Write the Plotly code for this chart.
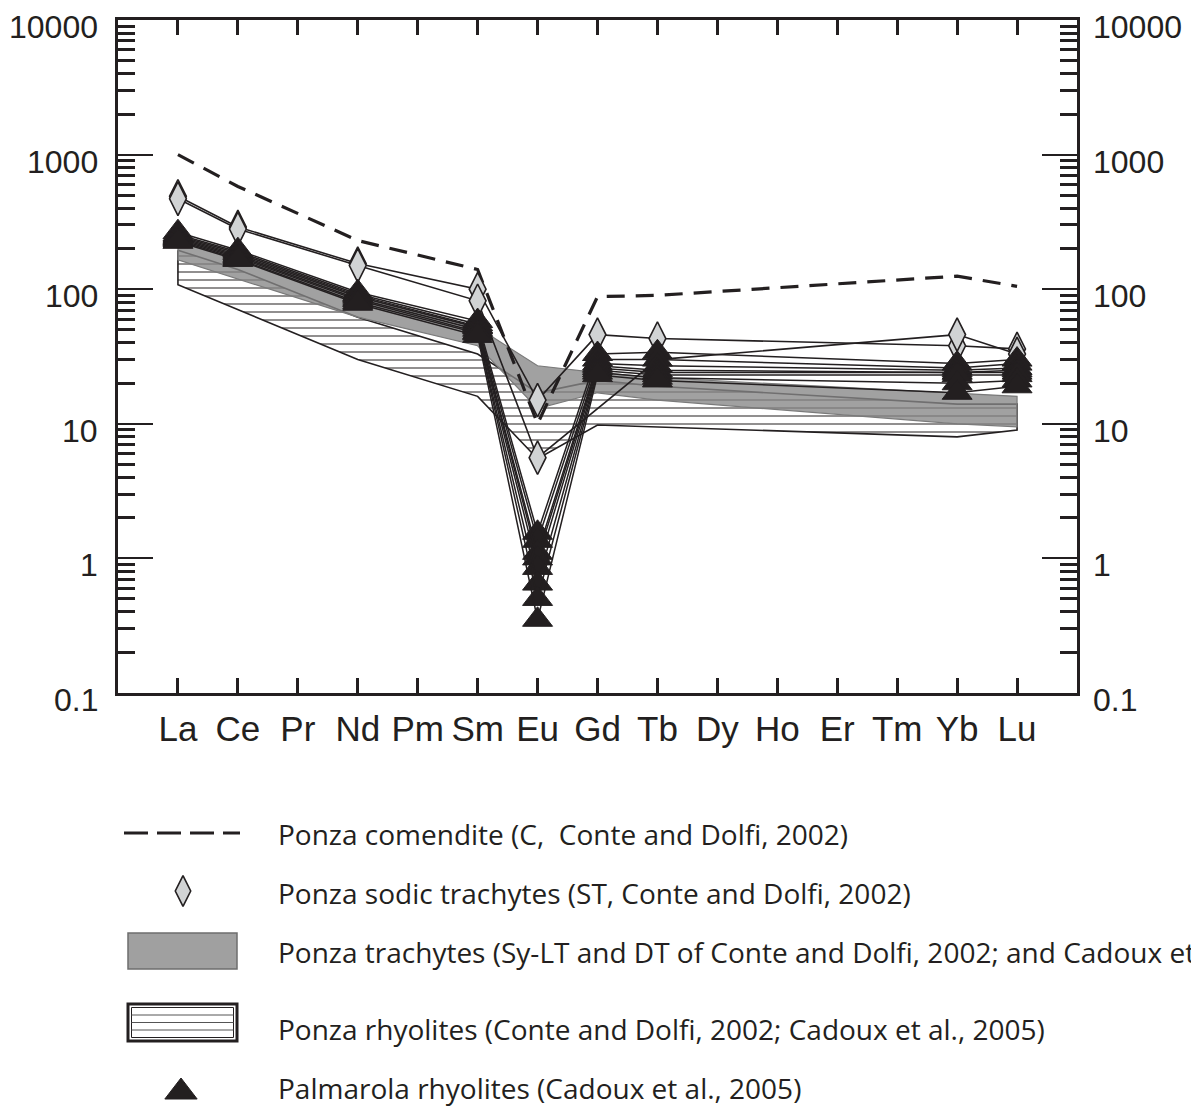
import math
import plotly.graph_objects as go

# ---------------- data ----------------
ELEMENTS = ["La", "Ce", "Pr", "Nd", "Pm", "Sm", "Eu", "Gd", "Tb", "Dy", "Ho", "Er", "Tm", "Yb", "Lu"]
N = None

COMENDITE = [1000, 580, N, 230, N, 140, 10.0, 88, 90, N, N, N, N, 125, 105]

SODIC_TRACHYTE_1 = [490, 290, N, 155, N, 100, 15, 46, 43, N, N, N, N, 38, 36]
SODIC_TRACHYTE_2 = [470, 280, N, 150, N, 82, 5.6, N, 30, N, N, N, N, 46, 33]

PALMAROLA_1 = [265, 195, N, 95, N, 58, 1.55, 33, 34, N, N, N, N, 28, 30]
PALMAROLA_2 = [255, 190, N, 92, N, 55, 1.35, 30, 30, N, N, N, N, 26, 28]
PALMAROLA_3 = [250, 185, N, 90, N, 53, 1.1, 28, 27, N, N, N, N, 25, 26]
PALMAROLA_4 = [245, 180, N, 88, N, 52, 1.0, 27, 25, N, N, N, N, 24, 25]
PALMAROLA_5 = [240, 176, N, 85, N, 50, 0.85, 26, 24, N, N, N, N, 24, 24]
PALMAROLA_6 = [235, 172, N, 83, N, 48, 0.65, 25, 23, N, N, N, N, 23, 23]
PALMAROLA_7 = [230, 168, N, 80, N, 47, 0.5, 24, 22, N, N, N, N, 20, 21]
PALMAROLA_8 = [225, 165, N, 78, N, 45, 0.35, 23, 21, N, N, N, N, 17, 19]

TRACHYTE_TOP = [250, 185, N, 88, N, 52, 27, 24, 22, N, N, N, N, 17, 16]
TRACHYTE_BOTTOM = [165, 120, N, 62, N, 38, 13, 17, 15, N, N, N, N, 10, 9.5]

RHYOLITE_TOP = [195, 140, N, 62, N, 33, 17, 21, 19, N, N, N, N, 14, 14]
RHYOLITE_BOTTOM = [108, 70, N, 30, N, 16, 5.5, 9.8, 9.4, N, N, N, N, 8.0, 9.0]

Y_TICKS = [0.1, 1, 10, 100, 1000, 10000]
Y_TICK_TEXT = ["0.1", "1", "10", "100", "1000", "10000"]

LEGEND_LABELS = [
    "Ponza comendite (C,  Conte and Dolfi, 2002)",
    "Ponza sodic trachytes (ST, Conte and Dolfi, 2002)",
    "Ponza trachytes (Sy-LT and DT of Conte and Dolfi, 2002; and Cadoux et",
    "Ponza rhyolites (Conte and Dolfi, 2002; Cadoux et al., 2005)",
    "Palmarola rhyolites (Cadoux et al., 2005)",
]

# ---------------- styling ----------------
PAGE_W, PAGE_H = 1199, 1106
OFF = 8                      # default body margin of the html page
W, H = PAGE_W - OFF, PAGE_H - OFF
BLACK = "#231f20"
GRAY_FILL = "rgba(135,135,135,0.78)"
DIAMOND_FILL = "#d1d3d4"
X0, X1, Y0, Y1 = 118, 1077, 20, 693  # plot box in page pixels

X = list(range(len(ELEMENTS)))


def pts(vals):
    return [(i, v) for i, v in enumerate(vals) if v is not None]


def polygon(top, bottom):
    t = pts(top)
    b = pts(bottom)[::-1]
    xs = [p[0] for p in t] + [p[0] for p in b] + [t[0][0]]
    ys = [p[1] for p in t] + [p[1] for p in b] + [t[0][1]]
    return xs, ys


fig = go.Figure()

# Ponza rhyolites field (hatched)
rx, ry = polygon(RHYOLITE_TOP, RHYOLITE_BOTTOM)
fig.add_trace(go.Scatter(
    x=rx, y=ry, mode="lines", fill="toself",
    fillcolor="rgba(0,0,0,0)",
    fillpattern=dict(shape="-", size=8, solidity=0.25, fgcolor=BLACK, bgcolor="rgba(255,255,255,0)"),
    line=dict(color=BLACK, width=1.6), hoverinfo="skip", showlegend=False))

# Ponza trachytes field (grey)
tx, ty = polygon(TRACHYTE_TOP, TRACHYTE_BOTTOM)
fig.add_trace(go.Scatter(
    x=tx, y=ty, mode="lines", fill="toself", fillcolor=GRAY_FILL,
    line=dict(color="#7a7a7a", width=1.2), hoverinfo="skip", showlegend=False))

# comendite
fig.add_trace(go.Scatter(
    x=X, y=COMENDITE, mode="lines", connectgaps=True,
    line=dict(color=BLACK, width=3.2, dash="18px,11px"), showlegend=False))

# sodic trachytes
for s in [SODIC_TRACHYTE_1, SODIC_TRACHYTE_2]:
    fig.add_trace(go.Scatter(
        x=X, y=s, mode="lines+markers", connectgaps=True,
        line=dict(color=BLACK, width=1.6),
        marker=dict(symbol="diamond-tall", size=24, color=DIAMOND_FILL,
                    line=dict(color=BLACK, width=1.6)),
        showlegend=False))

# Palmarola rhyolites
for s in [PALMAROLA_1, PALMAROLA_2, PALMAROLA_3, PALMAROLA_4,
          PALMAROLA_5, PALMAROLA_6, PALMAROLA_7, PALMAROLA_8]:
    fig.add_trace(go.Scatter(
        x=X, y=s, mode="lines+markers", connectgaps=True,
        line=dict(color=BLACK, width=1.5),
        marker=dict(symbol="triangle-up", size=26, color=BLACK,
                    line=dict(color=BLACK, width=1)),
        showlegend=False))

# ---------------- legend (drawn in page-pixel space on an overlay axis) ----------------
TXT_X = 276
fig.add_trace(go.Scatter(x=[124, 240], y=[833, 833], xaxis="x3", yaxis="y3",
                         mode="lines", line=dict(color=BLACK, width=3.2, dash="24px,9px"),
                         hoverinfo="skip", showlegend=False))
fig.add_trace(go.Scatter(x=[183], y=[891], xaxis="x3", yaxis="y3", mode="markers",
                         marker=dict(symbol="diamond-tall", size=22, color=DIAMOND_FILL,
                                     line=dict(color=BLACK, width=1.6)),
                         hoverinfo="skip", showlegend=False))
fig.add_trace(go.Scatter(x=[181], y=[1092], xaxis="x3", yaxis="y3", mode="markers",
                         marker=dict(symbol="triangle-up", size=28, color=BLACK,
                                     line=dict(color=BLACK, width=1)),
                         hoverinfo="skip", showlegend=False))

shapes = [
    dict(type="rect", xref="x3", yref="y3", x0=128, x1=237, y0=933, y1=969,
         fillcolor="#a0a0a0", line=dict(color="#6d6d6d", width=1.5), layer="above"),
    dict(type="rect", xref="x3", yref="y3", x0=128, x1=237, y0=1004, y1=1041,
         fillcolor="white", line=dict(color=BLACK, width=3), layer="above"),
    dict(type="rect", xref="x3", yref="y3", x0=131.5, x1=233.5, y0=1007.5, y1=1037.5,
         fillcolor="rgba(0,0,0,0)", line=dict(color=BLACK, width=1), layer="above"),
]
for yy in [1015, 1022.5, 1030]:
    shapes.append(dict(type="line", xref="x3", yref="y3", x0=131.5, x1=233.5, y0=yy, y1=yy,
                       line=dict(color="#555555", width=1), layer="above"))

annotations = []
for lab, yy in zip(LEGEND_LABELS, [834, 893, 952, 1029, 1088]):
    annotations.append(dict(x=TXT_X, y=yy, xref="x3", yref="y3", text=lab, showarrow=False,
                            xanchor="left", yanchor="middle",
                            font=dict(family="Open Sans", size=28, color=BLACK)))

# y-axis value labels on both sides (slightly below their ticks, as in the original)
TICK_FONT = dict(family="Liberation Sans, Arial", size=32, color=BLACK)
for v, t in zip(Y_TICKS, Y_TICK_TEXT):
    annotations.append(dict(x=(X0 - OFF) / W, y=math.log10(v), xref="paper", yref="y",
                            text=t, showarrow=False, xanchor="right", yanchor="middle",
                            xshift=-18, yshift=-7, font=TICK_FONT))
    annotations.append(dict(x=(X1 - OFF) / W, y=math.log10(v), xref="paper", yref="y",
                            text=t, showarrow=False, xanchor="left", yanchor="middle",
                            xshift=14, yshift=-7, font=TICK_FONT))

axis_common = dict(showgrid=False, zeroline=False)

fig.update_layout(
    width=W, height=H,
    margin=dict(l=0, r=0, t=0, b=0),
    paper_bgcolor="white", plot_bgcolor="rgba(0,0,0,0)",
    showlegend=False,
    xaxis=dict(
        domain=[(X0 - OFF) / W, (X1 - OFF) / W], range=[-1, len(ELEMENTS)], tickmode="array",
        tickvals=X, ticktext=ELEMENTS, ticks="inside", ticklen=15, tickwidth=3,
        tickcolor=BLACK, showline=True, linewidth=3, linecolor=BLACK, mirror="allticks",
        tickfont=dict(family="Liberation Sans, Arial", size=35, color=BLACK),
        ticklabelstandoff=3, automargin=False, **axis_common),
    yaxis=dict(
        domain=[1 - (Y1 - OFF) / H, 1 - (Y0 - OFF) / H], type="log", range=[-1, 4],
        tickmode="array", tickvals=Y_TICKS, ticktext=Y_TICK_TEXT, ticks="inside",
        ticklen=35, tickwidth=2, tickcolor=BLACK, showline=True, linewidth=3,
        linecolor=BLACK, mirror="allticks", showticklabels=False,
        minor=dict(tickmode="array",
                   tickvals=[m * 10 ** e for e in range(-1, 4) for m in range(2, 10)],
                   ticks="inside", ticklen=17, tickwidth=2.6, tickcolor=BLACK),
        automargin=False, **axis_common),
    xaxis3=dict(domain=[0, 1], range=[OFF, PAGE_W], visible=False, anchor="y3", fixedrange=True),
    yaxis3=dict(domain=[0, 1], range=[PAGE_H, OFF], visible=False, anchor="x3", fixedrange=True),
    shapes=shapes,
    annotations=annotations,
)

fig.write_html("out.html")
